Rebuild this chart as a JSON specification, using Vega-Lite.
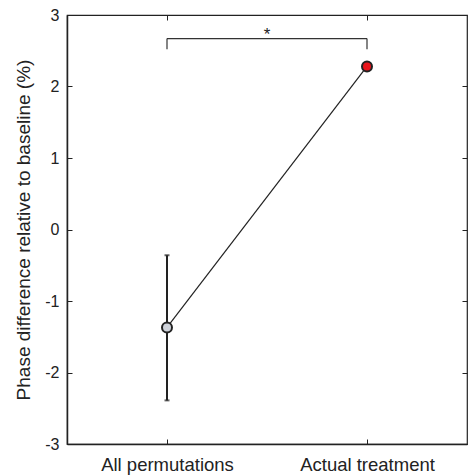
{
  "$schema": "https://vega.github.io/schema/vega-lite/v6.json",
  "width": 400,
  "height": 429,
  "autosize": {"type": "none"},
  "padding": {"left": 67, "top": 15, "right": 1, "bottom": 31},
  "background": "white",
  "config": {
    "view": {"stroke": "#222", "strokeWidth": 1.2},
    "font": "Liberation Sans",
    "axis": {
      "domainColor": "#222",
      "domainWidth": 1.5,
      "tickColor": "#222",
      "tickWidth": 1,
      "tickSize": -5,
      "grid": false,
      "labelColor": "#222",
      "titleColor": "#222",
      "labelFont": "Liberation Sans",
      "titleFont": "Liberation Sans",
      "titleFontWeight": "normal"
    }
  },
  "datasets": {
    "pts": [
      {"group": "All permutations", "x": 1, "value": -1.37, "lo": -2.39, "hi": -0.36, "fill": "#cfd3db"},
      {"group": "Actual treatment", "x": 2, "value": 2.28, "lo": 2.28, "hi": 2.28, "fill": "#e8141b"}
    ],
    "bracket": [
      {"x": 1, "x2": 2, "y": 2.67, "y2": 2.67},
      {"x": 1, "x2": 1, "y": 2.52, "y2": 2.67},
      {"x": 2, "x2": 2, "y": 2.52, "y2": 2.67}
    ],
    "star": [{"x": 1.5, "y": 2.78, "label": "*"}]
  },
  "layer": [
    {
      "data": {"name": "pts"},
      "transform": [{"filter": "datum.x == 1"}],
      "mark": {"type": "rule", "color": "#222", "strokeWidth": 2},
      "encoding": {
        "x": {
          "field": "x", "type": "quantitative",
          "scale": {"domain": [0.5, 2.5], "nice": false, "zero": false},
          "axis": {
            "orient": "bottom",
            "values": [1, 2],
            "labelExpr": "datum.value == 1 ? 'All permutations' : 'Actual treatment'",
            "labelFontSize": 18.5,
            "labelPadding": 16,
            "title": null,
            "domain": true
          }
        },
        "y": {
          "field": "lo", "type": "quantitative",
          "scale": {"domain": [-3, 3], "nice": false},
          "axis": {
            "orient": "left",
            "values": [-3, -2, -1, 0, 1, 2, 3],
            "labelExpr": "'' + datum.value",
            "labelFontSize": 16,
            "labelPadding": 13,
            "title": "Phase difference relative to baseline (%)",
            "titleFontSize": 19,
            "titlePadding": 11
          }
        },
        "y2": {"field": "hi"}
      }
    },
    {
      "data": {"name": "pts"},
      "transform": [{"filter": "datum.x == 1"}, {"fold": ["lo", "hi"], "as": ["end", "v"]}],
      "mark": {"type": "tick", "orient": "horizontal", "color": "#222", "size": 5, "thickness": 2},
      "encoding": {
        "x": {"field": "x", "type": "quantitative", "axis": null},
        "y": {"field": "v", "type": "quantitative", "axis": null}
      }
    },
    {
      "data": {"name": "pts"},
      "mark": {"type": "line", "color": "#222", "strokeWidth": 1.2},
      "encoding": {
        "x": {"field": "x", "type": "quantitative", "axis": null},
        "y": {"field": "value", "type": "quantitative", "axis": null}
      }
    },
    {
      "data": {"name": "bracket"},
      "mark": {"type": "rule", "color": "#333", "strokeWidth": 1.2},
      "encoding": {
        "x": {"field": "x", "type": "quantitative", "axis": null},
        "x2": {"field": "x2"},
        "y": {"field": "y", "type": "quantitative", "axis": null},
        "y2": {"field": "y2"}
      }
    },
    {
      "data": {"name": "star"},
      "mark": {"type": "text", "fontSize": 17, "color": "#222", "baseline": "middle", "dy": 4},
      "encoding": {
        "x": {"field": "x", "type": "quantitative", "axis": null},
        "y": {"field": "y", "type": "quantitative", "axis": null},
        "text": {"field": "label"}
      }
    },
    {
      "data": {"name": "pts"},
      "mark": {"type": "point", "filled": true, "shape": "circle", "size": 100, "stroke": "#222", "strokeWidth": 2, "opacity": 1},
      "encoding": {
        "x": {"field": "x", "type": "quantitative", "axis": null},
        "y": {"field": "value", "type": "quantitative", "axis": null},
        "fill": {"field": "fill", "type": "nominal", "scale": null}
      }
    },
    {
      "data": {"name": "pts"},
      "mark": {"type": "point", "opacity": 0},
      "encoding": {
        "x": {"field": "x", "type": "quantitative", "axis": {"orient": "top", "values": [1, 2], "labels": false, "title": null, "domain": false}},
        "y": {"field": "value", "type": "quantitative", "axis": {"orient": "right", "values": [-3, -2, -1, 0, 1, 2, 3], "labels": false, "title": null, "domain": false}}
      }
    }
  ],
  "resolve": {"axis": {"x": "independent", "y": "independent"}}
}
